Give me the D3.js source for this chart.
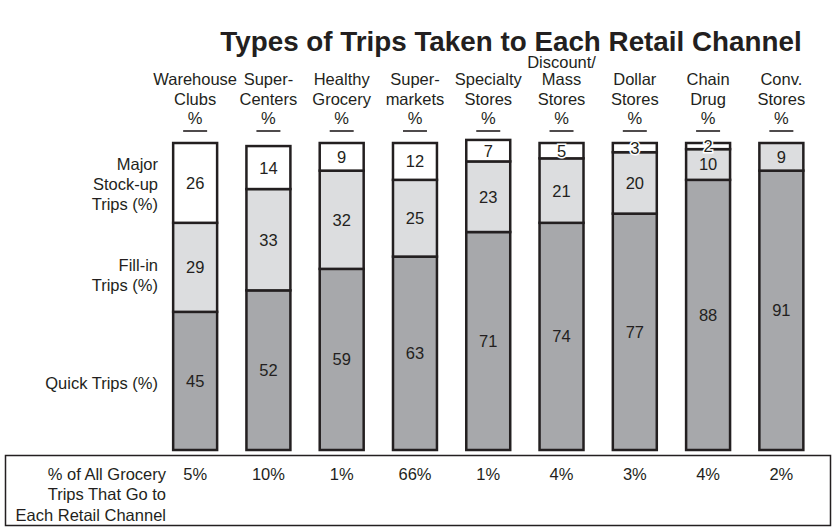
<!DOCTYPE html>
<html>
<head>
<meta charset="utf-8">
<script src="https://cdn.jsdelivr.net/npm/d3@7"></script>
<style>
  html, body { margin: 0; padding: 0; background: #fff; }
  svg { display: block; font-family: "Liberation Sans", Arial, Helvetica, sans-serif; }
</style>
</head>
<body>
<svg id="chart" width="834" height="527"></svg>
<script>
// Retail channels (header lines) and the share of trips of each type (%)
const channels = [
  ["Warehouse", "Clubs"],
  ["Super-", "Centers"],
  ["Healthy", "Grocery"],
  ["Super-", "markets"],
  ["Specialty", "Stores"],
  ["Discount/", "Mass", "Stores"],
  ["Dollar", "Stores"],
  ["Chain", "Drug"],
  ["Conv.", "Stores"]
];
const quickTrips   = [45, 52, 59, 63, 71, 74, 77, 88, 91];
const fillInTrips  = [29, 33, 32, 25, 23, 21, 20, 10, 9];
const stockUpTrips = [26, 14, 9, 12, 7, 5, 3, 2, 0];
const shareOfAllTrips = ["5%", "10%", "1%", "66%", "1%", "4%", "3%", "4%", "2%"];

const tripTypes = [
  { key: "quick",   fill: "#a7a8ab", label: ["Quick Trips (%)"] },
  { key: "fillin",  fill: "#dcdddf", label: ["Fill-in", "Trips (%)"] },
  { key: "stockup", fill: "#ffffff", label: ["Major", "Stock-up", "Trips (%)"] }
];

const ink = "#231f20";
const fs = 16.5;
const svg = d3.select("#chart");
const ids = channels.map((c, i) => "c" + i);

const x = d3.scaleBand().domain(ids).range([158.5, 818]).paddingInner(0.4).paddingOuter(0.2);
const y = d3.scaleLinear().domain([0, 100]).range([450, 143]);
const cx = id => x(id) + x.bandwidth() / 2;

// Title
svg.append("text")
  .attr("x", 511).attr("y", 51)
  .attr("text-anchor", "middle")
  .attr("font-size", 27.8).attr("font-weight", "bold").attr("fill", ink)
  .text("Types of Trips Taken to Each Retail Channel");

// Column headers: name lines, then an underlined "%"
const head = svg.append("g").attr("fill", ink).attr("font-size", fs).attr("text-anchor", "middle");
channels.forEach((lines, i) => {
  const c = cx(ids[i]);
  lines.forEach((t, j) => {
    const k = lines.length - 1 - j;            // lines counted up from the bottom one
    const yy = k === 2 ? 68 : 105 - k * 20;
    head.append("text").attr("x", c).attr("y", yy).text(t);
  });
  head.append("text").attr("x", c).attr("y", 124).text("%");
  head.append("line")
    .attr("x1", c - 12).attr("x2", c + 12).attr("y1", 131).attr("y2", 131)
    .attr("stroke", ink).attr("stroke-width", 1.6);
});

// Stacked segments
const stackData = ids.map((id, i) => ({ id, quick: quickTrips[i], fillin: fillInTrips[i], stockup: stockUpTrips[i] }));
const series = d3.stack().keys(tripTypes.map(t => t.key))(stackData);

const bars = svg.append("g");
series.forEach((s, k) => {
  const type = tripTypes[k];
  bars.append("g").selectAll("rect")
    .data(s.filter(d => d[1] - d[0] > 0))
    .join("rect")
    .attr("x", d => x(d.data.id))
    .attr("width", x.bandwidth())
    .attr("y", d => y(d[1]))
    .attr("height", d => y(d[0]) - y(d[1]))
    .attr("fill", type.fill)
    .attr("stroke", ink)
    .attr("stroke-width", 2.5);
});

// Segment value labels (a thin white halo lets small values sit across the edge)
series.forEach((s, k) => {
  const type = tripTypes[k];
  svg.append("g").attr("font-size", fs).attr("text-anchor", "middle").attr("fill", ink)
    .selectAll("text")
    .data(s.filter(d => d[1] - d[0] > 0))
    .join("text")
    .attr("x", d => cx(d.data.id))
    .attr("y", d => (y(d[0]) + y(d[1])) / 2 + 6)
    .attr("stroke", type.key === "stockup" ? "#fff" : "none")
    .attr("stroke-width", 3)
    .attr("paint-order", "stroke")
    .text(d => d[1] - d[0]);
});

// Row labels on the left
const rowLabelPos = { quick: [389], fillin: [271, 291], stockup: [170, 190, 210] };
const rows = svg.append("g").attr("font-size", fs).attr("text-anchor", "end").attr("fill", ink);
tripTypes.forEach(t => {
  t.label.forEach((line, j) => {
    rows.append("text").attr("x", 158).attr("y", rowLabelPos[t.key][j]).text(line);
  });
});

// Bottom box: share of all grocery trips going to each channel
svg.append("rect")
  .attr("x", 5.5).attr("y", 455.5).attr("width", 825).attr("height", 70)
  .attr("fill", "none").attr("stroke", ink).attr("stroke-width", 1.5);

const boxLines = ["% of All Grocery", "Trips That Go to", "Each Retail Channel"];
const boxG = svg.append("g").attr("font-size", fs).attr("fill", ink).attr("text-anchor", "end");
boxLines.forEach((t, j) => {
  boxG.append("text").attr("x", 166).attr("y", 480 + j * 20.3).text(t);
});

svg.append("g").attr("font-size", fs).attr("text-anchor", "middle").attr("fill", ink)
  .selectAll("text").data(shareOfAllTrips).join("text")
  .attr("x", (d, i) => cx(ids[i]))
  .attr("y", 480)
  .text(d => d);
</script>
</body>
</html>
